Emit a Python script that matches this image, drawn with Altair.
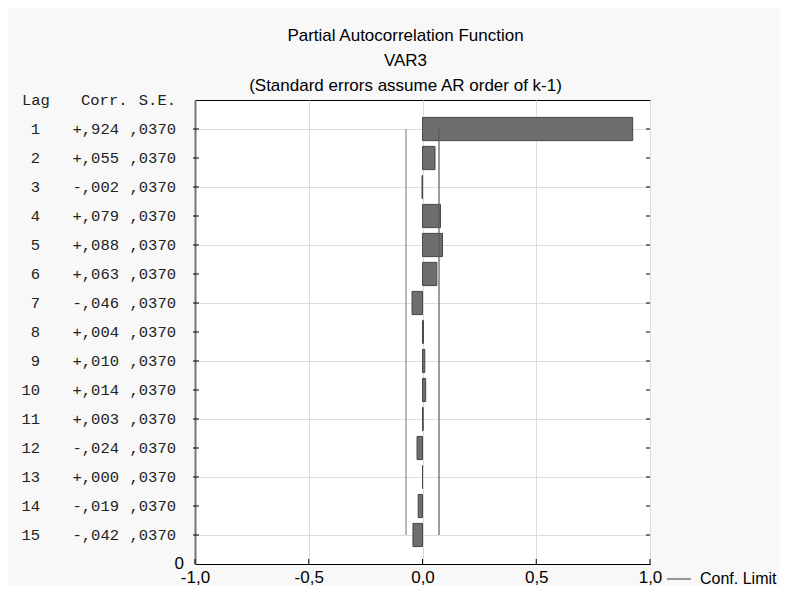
import altair as alt
import pandas as pd

# ---- data ----
lags = list(range(1, 16))
corr = [0.924, 0.055, -0.002, 0.079, 0.088, 0.063, -0.046, 0.004,
        0.010, 0.014, 0.003, -0.024, 0.000, -0.019, -0.042]
corr_text = ["+,924", "+,055", "-,002", "+,079", "+,088", "+,063", "-,046", "+,004",
             "+,010", "+,014", "+,003", "-,024", "+,000", "-,019", "-,042"]
se_text = [",0370"] * 15
conf_x = [-0.0725, 0.0725]
conf_color = ["#8a8a8a", "#5a5a5a"]
x_ticks = [-1.0, -0.5, 0.0, 0.5, 1.0]
header_text = ["Lag", "Corr.", "S.E."]
title_lines = ["Partial Autocorrelation Function", "VAR3",
               "(Standard errors assume AR order of k-1)"]
legend_label = ["Conf. Limit"]

W, H = 455, 464
MONO = "Liberation Mono"
SANS = "Liberation Sans"
MONO_SIZE = 15.5
SANS_SIZE = 17

df = pd.DataFrame({"lag": lags, "corr": corr, "corr_text": corr_text, "se_text": se_text})
conf_df = pd.DataFrame({"x": conf_x, "c": conf_color, "y0": [lags[0]] * 2, "y1": [lags[-1]] * 2})
tick_df = pd.DataFrame({"x": x_ticks})
head_df = pd.DataFrame({"t": header_text, "lag": [0, 0, 0]})
zero_df = pd.DataFrame({"t": ["0"], "lag": [16]})
leg_df = pd.DataFrame({"t": legend_label})

xscale = alt.Scale(domain=[-1, 1], nice=False, zero=False)
yscale = alt.Scale(domain=[0, 16], reverse=True, nice=False, zero=False)

xaxis = alt.Axis(values=x_ticks, grid=True, gridColor="#dcdcdc", tickSize=0,
                 domainColor="black",
                 labelExpr="replace(replace(format(datum.value, '.1f'), '.', ','), '\u2212', '-')",
                 labelFont=SANS, labelFontSize=SANS_SIZE, labelColor="black", labelPadding=5,
                 labelFlush=False, title=None)
yaxis = alt.Axis(values=lags, grid=True, gridColor="#dcdcdc", labels=False, ticks=False,
                 domainColor="#777777", domainWidth=2, title=None)

bars = alt.Chart(df).transform_calculate(
    y0="datum.lag - 0.4", y1="datum.lag + 0.4", zero="0"
).mark_rect(fill="#6e6e6e", stroke="#464646", strokeWidth=1).encode(
    x=alt.X("corr:Q", scale=xscale, axis=xaxis),
    x2="zero:Q",
    y=alt.Y("y0:Q", scale=yscale, axis=yaxis),
    y2="y1:Q",
)

conf = alt.Chart(conf_df).mark_rule(strokeWidth=1.2).encode(
    x=alt.X("x:Q", scale=xscale),
    y=alt.Y("y0:Q", scale=yscale),
    y2="y1:Q",
    color=alt.Color("c:N", scale=None),
)

ytick_l = alt.Chart(df).mark_rule(color="black").encode(
    x=alt.value(-2), x2=alt.value(4), y=alt.Y("lag:Q", scale=yscale))
ytick_r = alt.Chart(df).mark_rule(color="black").encode(
    x=alt.value(W - 4), x2=alt.value(W), y=alt.Y("lag:Q", scale=yscale))
xtick = alt.Chart(tick_df).mark_rule(color="black").encode(
    x=alt.X("x:Q", scale=xscale), y=alt.value(H), y2=alt.value(H - 5))

txt = dict(font=MONO, fontSize=MONO_SIZE, color="#222222", baseline="middle")
lag_col = alt.Chart(df).mark_text(align="right", **txt).encode(
    x=alt.value(-155), y=alt.Y("lag:Q", scale=yscale), text="lag:Q")
corr_col = alt.Chart(df).mark_text(align="right", **txt).encode(
    x=alt.value(-76), y=alt.Y("lag:Q", scale=yscale), text="corr_text:N")
se_col = alt.Chart(df).mark_text(align="right", **txt).encode(
    x=alt.value(-19), y=alt.Y("lag:Q", scale=yscale), text="se_text:N")

h_lag = alt.Chart(head_df.iloc[[0]]).mark_text(align="left", **txt).encode(
    x=alt.value(-173), y=alt.Y("lag:Q", scale=yscale), text="t:N")
h_corr = alt.Chart(head_df.iloc[[1]]).mark_text(align="left", **txt).encode(
    x=alt.value(-114), y=alt.Y("lag:Q", scale=yscale), text="t:N")
h_se = alt.Chart(head_df.iloc[[2]]).mark_text(align="right", **txt).encode(
    x=alt.value(-19), y=alt.Y("lag:Q", scale=yscale), text="t:N")

zero_lbl = alt.Chart(zero_df).mark_text(align="right", baseline="middle", font=SANS,
                                        fontSize=SANS_SIZE, color="black").encode(
    x=alt.value(-11), y=alt.Y("lag:Q", scale=yscale), text="t:N")

leg_line = alt.Chart(leg_df).mark_rule(color="#333333").encode(
    x=alt.value(472), x2=alt.value(496), y=alt.value(H + 15))
leg_text = alt.Chart(leg_df).mark_text(align="left", baseline="middle", font=SANS,
                                       fontSize=16, color="black").encode(
    x=alt.value(505), y=alt.value(H + 15), text="t:N")

chart = alt.layer(
    bars, conf, ytick_l, ytick_r, xtick,
    lag_col, corr_col, se_col, h_lag, h_corr, h_se, zero_lbl, leg_line, leg_text,
).properties(
    width=W, height=H,
    title=alt.TitleParams(text=title_lines, font=SANS, fontSize=SANS_SIZE, fontWeight="normal",
                          color="black", lineHeight=25, offset=-2, dx=-17, anchor="middle"),
    autosize=alt.AutoSizeParams(type="none"),
    padding={"left": 187, "top": 92, "right": 130, "bottom": 22},
    background="#f8f8f8",
).configure_view(stroke="black", strokeWidth=1, fill="white")

chart.save("out.html", embed_options={"renderer": "svg", "actions": False})
